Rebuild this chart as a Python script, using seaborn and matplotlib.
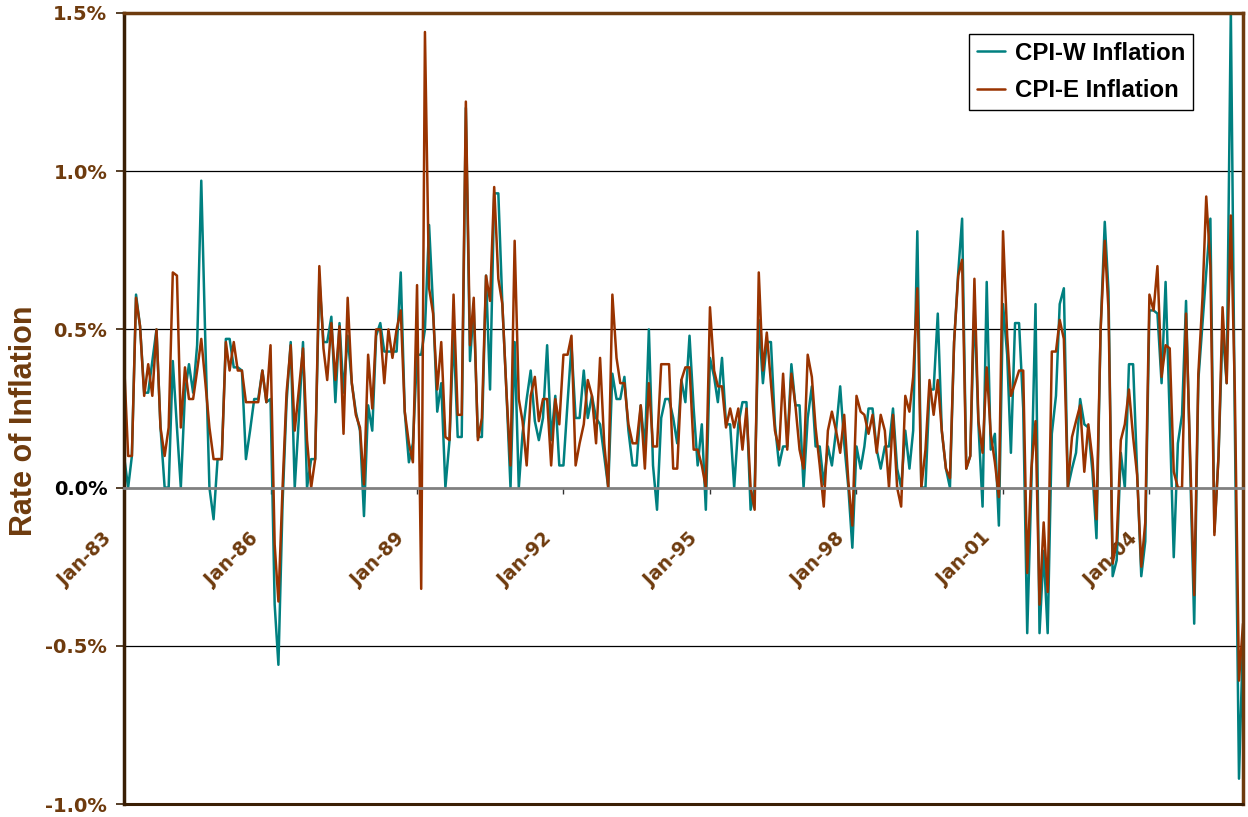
import matplotlib
matplotlib.use("Agg")
import matplotlib.pyplot as plt
import matplotlib.transforms as mtransforms
import pandas as pd
import seaborn as sns

# monthly inflation, Jan-83 .. Dec-05 (percent), one row per year
cpi_w = [
    0.10, 0.00, 0.10, 0.61, 0.51, 0.30, 0.30, 0.40, 0.50, 0.19, 0.00, 0.00,
    0.40, 0.19, 0.00, 0.30, 0.39, 0.30, 0.45, 0.97, 0.45, 0.00, -0.10, 0.09,
    0.09, 0.47, 0.47, 0.38, 0.38, 0.37, 0.09, 0.18, 0.28, 0.28, 0.37, 0.27,
    0.28, -0.37, -0.56, -0.05, 0.27, 0.46, 0.00, 0.22, 0.46, 0.00, 0.09, 0.09,
    0.66, 0.46, 0.46, 0.54, 0.27, 0.52, 0.30, 0.48, 0.33, 0.24, 0.18, -0.09,
    0.26, 0.18, 0.48, 0.52, 0.43, 0.43, 0.43, 0.43, 0.68, 0.24, 0.08, 0.14,
    0.42, 0.42, 0.50, 0.83, 0.57, 0.24, 0.33, 0.00, 0.15, 0.49, 0.16, 0.16,
    1.20, 0.40, 0.57, 0.16, 0.16, 0.67, 0.31, 0.93, 0.93, 0.58, 0.30, 0.00,
    0.46, 0.00, 0.17, 0.28, 0.37, 0.21, 0.15, 0.22, 0.45, 0.15, 0.29, 0.07,
    0.07, 0.27, 0.45, 0.22, 0.22, 0.37, 0.22, 0.29, 0.22, 0.20, 0.10, 0.00,
    0.36, 0.28, 0.28, 0.35, 0.18, 0.07, 0.07, 0.26, 0.12, 0.50, 0.07, -0.07,
    0.22, 0.28, 0.28, 0.22, 0.14, 0.34, 0.27, 0.48, 0.25, 0.07, 0.20, -0.07,
    0.41, 0.35, 0.27, 0.41, 0.20, 0.20, 0.00, 0.20, 0.27, 0.27, -0.07, 0.00,
    0.53, 0.33, 0.46, 0.46, 0.20, 0.07, 0.13, 0.13, 0.39, 0.26, 0.26, 0.00,
    0.22, 0.32, 0.13, 0.13, 0.01, 0.13, 0.07, 0.18, 0.32, 0.14, 0.00, -0.19,
    0.13, 0.06, 0.13, 0.25, 0.25, 0.12, 0.06, 0.13, 0.13, 0.25, 0.06, 0.00,
    0.18, 0.06, 0.18, 0.81, 0.00, 0.00, 0.31, 0.31, 0.55, 0.18, 0.06, 0.00,
    0.46, 0.68, 0.85, 0.06, 0.10, 0.58, 0.20, -0.06, 0.65, 0.12, 0.17, -0.12,
    0.58, 0.42, 0.11, 0.52, 0.52, 0.25, -0.46, 0.01, 0.58, -0.46, -0.20, -0.46,
    0.17, 0.29, 0.58, 0.63, 0.00, 0.06, 0.11, 0.28, 0.20, 0.19, 0.05, -0.16,
    0.50, 0.84, 0.62, -0.28, -0.23, 0.11, 0.00, 0.39, 0.39, 0.05, -0.28, -0.17,
    0.56, 0.56, 0.55, 0.33, 0.65, 0.22, -0.22, 0.14, 0.23, 0.59, 0.06, -0.43,
    0.34, 0.52, 0.68, 0.85, -0.14, 0.10, 0.50, 0.33, 1.51, 0.20, -0.92, -0.47,
]
cpi_e = [
    0.40, 0.10, 0.10, 0.60, 0.51, 0.29, 0.39, 0.29, 0.50, 0.19, 0.10, 0.19,
    0.68, 0.67, 0.19, 0.38, 0.28, 0.28, 0.37, 0.47, 0.33, 0.19, 0.09, 0.09,
    0.09, 0.46, 0.37, 0.46, 0.37, 0.37, 0.27, 0.27, 0.27, 0.27, 0.37, 0.27,
    0.45, -0.18, -0.36, 0.00, 0.30, 0.45, 0.18, 0.31, 0.44, 0.15, 0.00, 0.09,
    0.70, 0.44, 0.34, 0.52, 0.34, 0.51, 0.17, 0.60, 0.33, 0.23, 0.19, 0.01,
    0.42, 0.25, 0.50, 0.50, 0.33, 0.50, 0.41, 0.50, 0.56, 0.24, 0.14, 0.08,
    0.64, -0.32, 1.44, 0.63, 0.55, 0.31, 0.46, 0.16, 0.15, 0.61, 0.23, 0.23,
    1.22, 0.45, 0.60, 0.15, 0.22, 0.67, 0.59, 0.95, 0.66, 0.58, 0.30, 0.07,
    0.78, 0.28, 0.21, 0.07, 0.29, 0.35, 0.21, 0.28, 0.28, 0.07, 0.28, 0.20,
    0.42, 0.42, 0.48, 0.07, 0.14, 0.20, 0.34, 0.29, 0.14, 0.41, 0.14, 0.00,
    0.61, 0.41, 0.33, 0.33, 0.20, 0.14, 0.14, 0.26, 0.06, 0.33, 0.13, 0.13,
    0.39, 0.39, 0.39, 0.06, 0.06, 0.34, 0.38, 0.38, 0.12, 0.12, 0.07, 0.00,
    0.57, 0.37, 0.32, 0.32, 0.19, 0.25, 0.19, 0.25, 0.12, 0.25, 0.00, -0.07,
    0.68, 0.37, 0.49, 0.33, 0.18, 0.12, 0.36, 0.12, 0.36, 0.26, 0.12, 0.06,
    0.42, 0.35, 0.19, 0.07, -0.06, 0.18, 0.24, 0.18, 0.11, 0.23, 0.02, -0.12,
    0.29, 0.24, 0.23, 0.17, 0.23, 0.11, 0.23, 0.18, 0.00, 0.23, 0.00, -0.06,
    0.29, 0.24, 0.35, 0.63, 0.00, 0.12, 0.34, 0.23, 0.34, 0.18, 0.06, 0.03,
    0.46, 0.67, 0.72, 0.06, 0.10, 0.66, 0.21, 0.11, 0.38, 0.17, 0.08, -0.03,
    0.81, 0.48, 0.29, 0.33, 0.37, 0.37, -0.27, 0.06, 0.21, -0.37, -0.11, -0.33,
    0.43, 0.43, 0.53, 0.47, 0.00, 0.16, 0.21, 0.26, 0.05, 0.20, 0.09, -0.10,
    0.50, 0.78, 0.56, -0.24, -0.17, 0.15, 0.20, 0.31, 0.16, 0.04, -0.25, -0.11,
    0.61, 0.56, 0.70, 0.35, 0.45, 0.44, 0.05, 0.00, 0.00, 0.55, 0.10, -0.34,
    0.36, 0.60, 0.92, 0.70, -0.15, 0.10, 0.57, 0.33, 0.86, 0.30, -0.61, -0.43,
]
series_names = ["CPI-W Inflation", "CPI-E Inflation"]
tick_years = [1983, 1986, 1989, 1992, 1995, 1998, 2001, 2004]
y_ticks = [-1.0, -0.5, 0.0, 0.5, 1.0, 1.5]

BROWN_TXT = "#6E3B0E"
colors = {"CPI-W Inflation": "#008080", "CPI-E Inflation": "#993300"}

months = pd.date_range("1983-01-01", periods=len(cpi_w), freq="MS")
df = pd.DataFrame({"Month": months, series_names[0]: cpi_w, series_names[1]: cpi_e})
long_df = df.melt(id_vars="Month", var_name="Series", value_name="Rate")

sns.set_theme(style="white")
plt.rcParams["font.family"] = ["DejaVu Sans"]

fig = plt.figure(figsize=(12.48, 8.17), dpi=100)
ax = fig.add_axes([124 / 1248, 1 - 804 / 817, 1119 / 1248, 791 / 817])

sns.lineplot(data=long_df, x="Month", y="Rate", hue="Series", hue_order=series_names,
             palette=colors, linewidth=1.8, ax=ax, legend=False)

ax.set_xlim(months[0], months[-1])
ax.set_ylim(-1.0, 1.5)

# gridlines
for v in y_ticks:
    if v != 0.0:
        ax.axhline(v, color="black", lw=0.9, zorder=0)
ax.axhline(-1.0, color="#3A1F05", lw=2.2, zorder=3, clip_on=False)

# frame
for side in ["left", "top", "right"]:
    ax.spines[side].set_color(BROWN_TXT)
    ax.spines[side].set_linewidth(2.5)
ax.spines["left"].set_color("#3A1F05")
ax.spines["bottom"].set_position(("data", 0))
ax.spines["bottom"].set_color("#808080")
ax.spines["bottom"].set_linewidth(2)

# y axis
ax.set_yticks(y_ticks)
ax.set_yticklabels([f"{v:.1f}%" for v in y_ticks])
ax.tick_params(axis="y", direction="out", length=6, width=1.2, color="#3A1F05",
               pad=6, left=True, labelsize=14, labelcolor=BROWN_TXT)
for lab in ax.get_yticklabels():
    lab.set_fontweight("bold")
ax.get_yticklabels()[y_ticks.index(0.0)].set_color("black")

ax.set_ylabel("Rate of Inflation", fontsize=22, fontweight="bold", color=BROWN_TXT,
              family=["Liberation Sans", "DejaVu Sans"])
ax.yaxis.set_label_coords(-0.076, 0.485)

# x axis on the zero line
ax.set_xticks([pd.Timestamp(f"{y}-01-01") for y in tick_years])
ax.set_xticklabels([f"Jan-{str(y)[2:]}" for y in tick_years])
ax.tick_params(axis="x", direction="out", length=4, width=1, color="#333333",
               bottom=True, pad=2, labelsize=13.5, labelcolor=BROWN_TXT)
offset = mtransforms.ScaledTranslation(-0.22, -0.33, fig.dpi_scale_trans)
for lab in ax.get_xticklabels():
    lab.set_rotation(45)
    lab.set_ha("right")
    lab.set_va("top")
    lab.set_rotation_mode("anchor")
    lab.set_fontweight("bold")
    lab.set_transform(lab.get_transform() + offset)

ax.set_xlabel("")

handles = [plt.Line2D([], [], color=colors[n], lw=1.8) for n in series_names]
leg = ax.legend(handles, series_names, loc="upper right", bbox_to_anchor=(0.955, 0.973),
                frameon=True, fancybox=False, edgecolor="black", framealpha=1,
                borderaxespad=0, borderpad=0.3, labelspacing=0.62, handlelength=1.2,
                handletextpad=0.4, labelcolor="black",
                prop={"family": ["Liberation Sans", "DejaVu Sans"],
                      "weight": "bold", "size": 17.3})
leg.get_frame().set_linewidth(1)

fig.savefig("out.png", dpi=100, facecolor="white")
